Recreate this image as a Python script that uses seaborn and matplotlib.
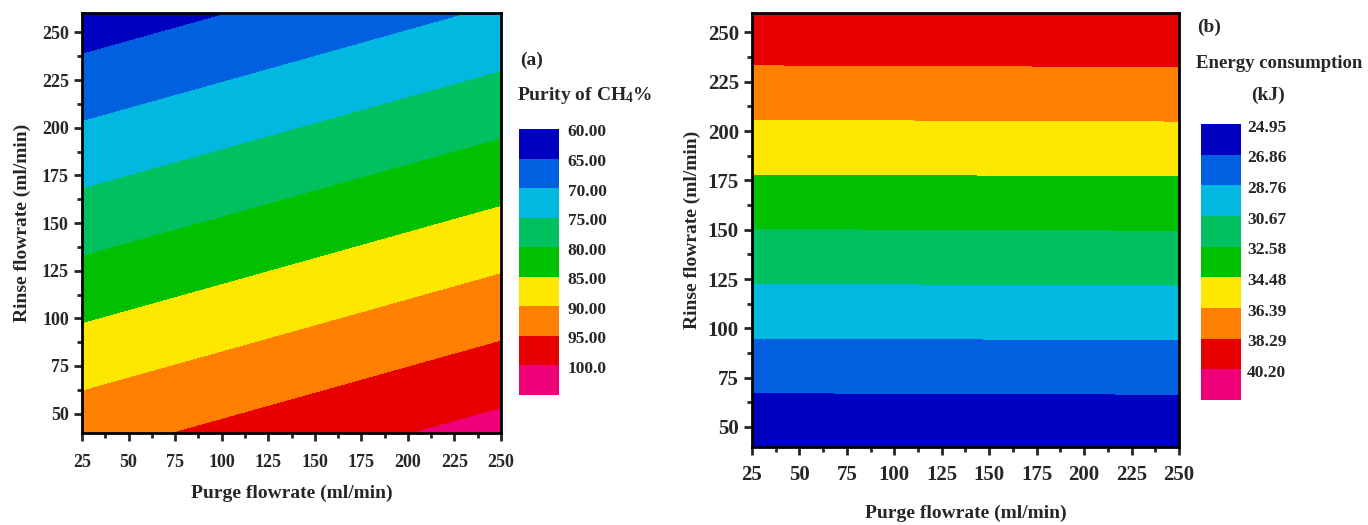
import numpy as np
import seaborn as sns
import matplotlib
matplotlib.use("Agg")
import matplotlib.pyplot as plt
from matplotlib.colors import ListedColormap
from matplotlib.ticker import MultipleLocator

# grid (purge flowrate on x, rinse flowrate on y)
purge = [25, 137.5, 250]
rinse = [40, 150, 260]

# (a) purity of CH4 (%), rows follow rinse, columns follow purge
purity = [[93.08, 97.43, 101.79],
          [77.52, 81.87, 86.23],
          [61.96, 66.31, 70.67]]
purity_levels = [60, 65, 70, 75, 80, 85, 90, 95, 100, 105]
purity_labels = ["60.00", "65.00", "70.00", "75.00", "80.00", "85.00", "90.00", "95.00", "100.0"]

# (b) energy consumption (kJ)
energy = [[24.98, 25.00, 25.03],
          [32.54, 32.57, 32.60],
          [40.11, 40.14, 40.17]]
energy_levels = [24.95, 26.86, 28.76, 30.67, 32.58, 34.48, 36.39, 38.29, 40.20, 42.10]
energy_labels = ["24.95", "26.86", "28.76", "30.67", "32.58", "34.48", "36.39", "38.29", "40.20"]

band_colors = ["#0000c0", "#0060e0", "#00b8e0", "#00c060", "#00c000",
               "#ffe800", "#ff7f00", "#e80000", "#f00078"]

sns.set_style("ticks")
plt.rcParams['font.family'] = ['Liberation Serif', 'DejaVu Serif']
plt.rcParams['font.weight'] = 'bold'
plt.rcParams['axes.labelweight'] = 'bold'
plt.rcParams['mathtext.fontset'] = 'custom'
plt.rcParams['mathtext.rm'] = 'Liberation Serif:bold'
plt.rcParams['mathtext.bf'] = 'Liberation Serif:bold'
plt.rcParams['mathtext.default'] = 'bf'

pal = sns.color_palette(band_colors)
fig = plt.figure(figsize=(13.68, 5.25), dpi=100)


def panel(rect, z, levels, fs, lfs, xpad, tpad, ypad):
    ax = fig.add_axes(rect)
    X, Y = np.meshgrid(purge, rinse)
    ax.contourf(X, Y, np.array(z), levels=levels, colors=pal)
    ax.set_xlim(25, 250)
    ax.set_ylim(40, 260)
    ax.set_xticks(np.arange(25, 251, 25))
    ax.set_yticks(np.arange(50, 251, 25))
    ax.xaxis.set_minor_locator(MultipleLocator(12.5))
    ax.yaxis.set_minor_locator(MultipleLocator(12.5))
    ax.tick_params(which='major', length=6, width=2, labelsize=fs, direction='out')
    ax.tick_params(axis='x', which='major', pad=tpad)
    ax.tick_params(which='minor', length=3.5, width=2, direction='out')
    for s in ax.spines.values():
        s.set_linewidth(2)
        s.set_color('black')
    ax.set_xlabel("Purge flowrate (ml/min)", fontsize=lfs, labelpad=xpad)
    ax.set_ylabel("Rinse flowrate (ml/min)", fontsize=lfs, labelpad=ypad)
    return ax


def legend_bar(rect, labels, fs, pad):
    cax = fig.add_axes(rect)
    idx = np.arange(len(labels)).reshape(-1, 1)
    sns.heatmap(idx, ax=cax, cmap=ListedColormap(band_colors), cbar=False,
                xticklabels=False, yticklabels=False)
    cax.set_yticks(np.arange(len(labels)) + 0.05)
    cax.set_yticklabels(labels, fontsize=fs, fontweight='bold')
    cax.yaxis.tick_right()
    cax.tick_params(axis='y', length=0, pad=pad, rotation=0)
    cax.set_ylabel("")
    return cax


ax1 = panel([0.0600, 0.1758, 0.3062, 0.7988], purity, purity_levels, 13, 14, 10, 9, 8)
ax2 = panel([0.5497, 0.1491, 0.3121, 0.8267], energy, energy_levels, 15, 14, 14, 7, 5)

legend_bar([0.3796, 0.2476, 0.0292, 0.5067], purity_labels, 12.5, 6)
legend_bar([0.8777, 0.2381, 0.0292, 0.5257], energy_labels, 12.5, 4.5)

fig.text(0.380, 1 - 60 / 525, "(a)", fontsize=14, va='center', ha='left')
fig.text(0.378, 1 - 95 / 525, "Purity of CH$_4$%", fontsize=14, va='center', ha='left')
fig.text(0.875, 1 - 27 / 525, "(b)", fontsize=14, va='center', ha='left')
fig.text(0.8743, 1 - 63 / 525, "Energy consumption", fontsize=13.5, va='center', ha='left')
fig.text(0.927, 1 - 95 / 525, "(kJ)", fontsize=14, va='center', ha='center')

fig.savefig("out.png", dpi=100)
